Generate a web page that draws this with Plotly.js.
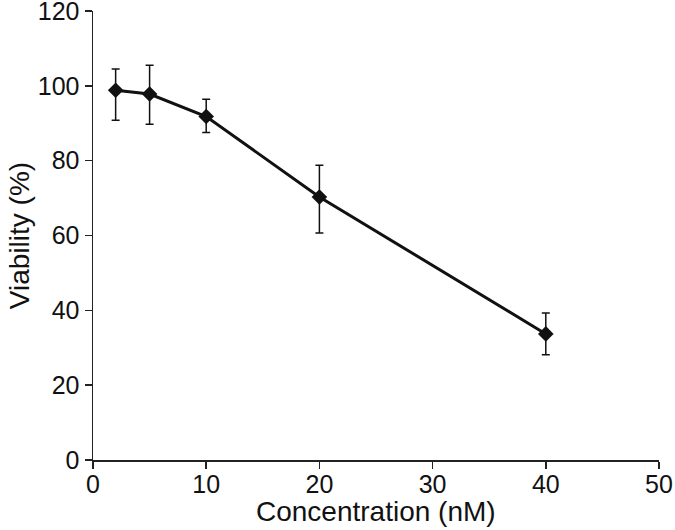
<!DOCTYPE html>
<html>
<head>
<meta charset="utf-8">
<script src="https://cdn.plot.ly/plotly-3.0.1.min.js"></script>
<style>html,body{margin:0;padding:0;background:#fff;}#chart{width:675px;height:530px;}</style>
</head>
<body>
<div id="chart"></div>
<script>
const concentration = [2, 5, 10, 20, 40];
const viability = [98.8, 97.8, 91.8, 70.3, 33.7];
const errPlus = [5.7, 7.7, 4.6, 8.5, 5.6];
const errMinus = [8.0, 8.1, 4.3, 9.6, 5.6];
const xTicks = [0, 10, 20, 30, 40, 50];
const yTicks = [0, 20, 40, 60, 80, 100, 120];
const xTitle = 'Concentration (nM)';
const yTitle = 'Viability (%)';

const trace = {
  x: concentration,
  y: viability,
  type: 'scatter',
  mode: 'lines+markers',
  line: {color: '#111', width: 3},
  marker: {symbol: 'diamond', size: 12, color: '#111'},
  error_y: {type: 'data', symmetric: false, array: errPlus, arrayminus: errMinus,
            color: '#111', thickness: 1.5, width: 4},
  showlegend: false
};

const fam = 'Liberation Sans, Arial, sans-serif';
const layout = {
  width: 675, height: 530,
  margin: {l: 93, r: 16, t: 11, b: 70},
  paper_bgcolor: '#fff', plot_bgcolor: '#fff',
  font: {family: fam, color: '#111'},
  xaxis: {
    range: [0, 50], tickvals: xTicks, ticks: 'outside', ticklen: 7, tickwidth: 1.5,
    tickcolor: '#222', showline: true, linecolor: '#222', linewidth: 1.5, automargin: false,
    ticklabeloverflow: 'allow', ticklabelstandoff: -6,
    showgrid: false, zeroline: false, tickfont: {size: 25, family: fam, color: '#111'}
  },
  yaxis: {
    range: [0, 120], tickvals: yTicks, ticks: 'outside', ticklen: 7, tickwidth: 1.5,
    tickcolor: '#222', showline: true, linecolor: '#222', linewidth: 1.5, automargin: false,
    ticklabeloverflow: 'allow',
    showgrid: false, zeroline: false, tickfont: {size: 25, family: fam, color: '#111'},
    title: {text: yTitle, font: {size: 28, family: fam, color: '#111'}, standoff: 0}
  },
  annotations: [{
    text: xTitle, xref: 'paper', yref: 'paper', x: 0.5, y: -0.1136,
    xanchor: 'center', yanchor: 'middle', showarrow: false,
    font: {size: 28, family: fam, color: '#111'}
  }]
};

Plotly.newPlot('chart', [trace], layout, {displayModeBar: false, staticPlot: true});
</script>
</body>
</html>
